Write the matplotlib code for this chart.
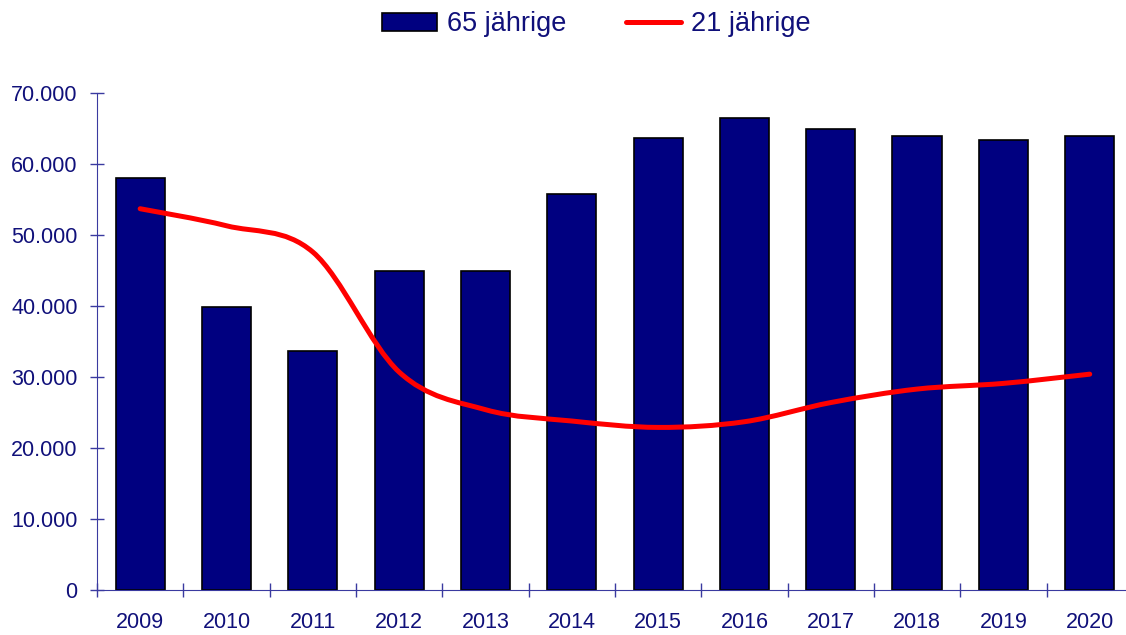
# Bar chart of 65 year olds with a smoothed line for 21 year olds
# the line is smoothed like the office charts do it (bezier through the points)

import numpy as np
import matplotlib
matplotlib.use("Agg")
import matplotlib.pyplot as plt
from matplotlib.path import Path
from matplotlib.patches import PathPatch
from matplotlib.lines import Line2D
from matplotlib.ticker import FuncFormatter, FixedLocator

#############
# DATA
#############
years = ['2009', '2010', '2011', '2012', '2013', '2014',
         '2015', '2016', '2017', '2018', '2019', '2020']
age65 = [58000, 39900, 33700, 44900, 44900, 55800,
         63700, 66500, 64900, 63900, 63400, 63900]
age21 = [53700, 51300, 47600, 30700, 25400, 23800,
         22900, 23700, 26400, 28300, 29100, 30400]
legend_labels = ['65 jährige', '21 jährige']

#############
# STYLE VARS
#############
navy = '#000080'
txt = '#10107a'
axis_col = '#3a3aa0'
fs = 15.5        # tick label size
legend_fs = 19.5

plt.rcParams['font.family'] = ['Liberation Sans', 'DejaVu Sans']

fig = plt.figure(figsize=(11.26, 6.35), dpi=100)
ax = fig.add_axes([97 / 1126, 45 / 635, 1029 / 1126, 497 / 635])

x = np.arange(len(years))
ax.bar(x, age65, width=0.57, color=navy, edgecolor='black', linewidth=1.2, zorder=2)

# smooth line - catmull-rom style bezier segments between the yearly points
pts = np.column_stack([x, age21]).astype(float)
verts = [pts[0]]
codes = [Path.MOVETO]
n = len(pts)
for i in range(n - 1):
    p0 = pts[max(i - 1, 0)]
    p1 = pts[i]
    p2 = pts[i + 1]
    p3 = pts[min(i + 2, n - 1)]
    c1 = p1 + (p2 - p0) / 6
    c2 = p2 - (p3 - p1) / 6
    verts += [c1, c2, p2]
    codes += [Path.CURVE4] * 3
line = PathPatch(Path(verts, codes), fill=False, edgecolor='#ff0000',
                 linewidth=3.6, capstyle='round', joinstyle='round', zorder=3)
ax.add_patch(line)

# axes
ax.set_xlim(-0.5, 11.42)
ax.set_ylim(0, 70000)
ax.spines['top'].set_visible(False)
ax.spines['right'].set_visible(False)
ax.spines['left'].set_color(axis_col)
ax.spines['bottom'].set_color(axis_col)

ax.set_yticks(np.arange(0, 70001, 10000))
ax.yaxis.set_major_formatter(FuncFormatter(lambda v, p: f"{v:,.0f}".replace(",", ".")))
ax.tick_params(axis='y', direction='inout', length=10, width=1, color=axis_col,
               labelcolor=txt, labelsize=fs, pad=9)

# year labels at bar centres, tick marks between the bars
ax.set_xticks(x)
ax.set_xticklabels(years)
ax.xaxis.set_minor_locator(FixedLocator(np.arange(-0.5, 11.6, 1)))
ax.tick_params(axis='x', which='major', length=0, labelcolor=txt, labelsize=fs, pad=16)
ax.tick_params(axis='x', which='minor', direction='inout', length=10, width=1, color=axis_col)

# legend
handles = [plt.Rectangle((0, 0), 1, 1, facecolor=navy, edgecolor='black', linewidth=1.2),
           Line2D([], [], color='#ff0000', linewidth=3.6, solid_capstyle='round')]
leg = fig.legend(handles, legend_labels, loc='center', bbox_to_anchor=(0.530, 0.962),
                 ncol=2, frameon=False, fontsize=legend_fs, handlelength=2.0,
                 handletextpad=0.4, columnspacing=2.2, handleheight=0.65)
for t in leg.get_texts():
    t.set_color(txt)

fig.savefig('out.png', dpi=100)
